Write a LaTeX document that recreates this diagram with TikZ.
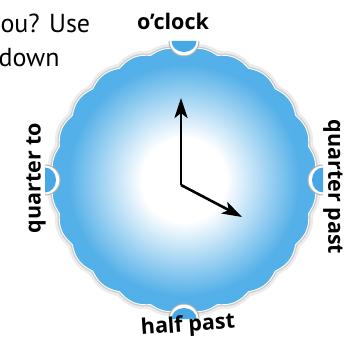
\documentclass[tikz,border=0pt]{standalone}
\usepackage{fontspec}
\setmainfont{Open Sans}
\newfontfamily\topfont{PT Sans}
\usetikzlibrary{arrows.meta}
\definecolor{clockblue}{RGB}{84,176,232}
\definecolor{notchblue}{RGB}{72,168,230}
\pgfdeclareradialshading{clockface}{\pgfpoint{0bp}{0bp}}{color(0bp)=(white); color(8bp)=(white); color(22bp)=(clockblue); color(50bp)=(clockblue)}
\tikzset{
  handarrow/.style={-{Stealth[length=20pt,width=13pt,inset=5pt]}, line width=2.6pt},
  rimlabel/.style={font=\bfseries\fontsize{21.5}{21.5}\selectfont},
  toptext/.style={anchor=base west, font=\topfont\fontsize{26}{26}\selectfont},
  clockrim/.style={line join=round,
    preaction={draw=gray!15, line width=9pt},
    preaction={draw=gray!40, line width=3.5pt},
    shading=clockface, draw=white, line width=0.9pt},
  notchring/.style={fill=white},
  notchdisk/.style={fill=notchblue}
}

\begin{document}
\begin{tikzpicture}[x=1pt, y=1pt]
  \useasboundingbox (0,0) rectangle (348,343);
  \clip (0,0) rectangle (348,343);
  \node[toptext] (line1) at (-3,310) {ou? Use};
  \node[toptext] (line2) at (-5,276) {down};
  % clock face
  \coordinate (c) at (184,163);
  \path[clockrim] plot[domain=0:360, samples=481, variable=\t]
    ({184+(129+3.5*abs(sin(12*\t)))*cos(\t)}, {163+(129+3.5*abs(sin(12*\t)))*sin(\t)}) -- cycle;
  \foreach \a in {0,90,180,270} {
    \begin{scope}[shift={(c)}, rotate=\a]
      \fill[notchring] (139,15) arc[start angle=90, end angle=270, radius=15] -- cycle;
      \draw[gray!60, line width=1pt] (139,15) arc[start angle=90, end angle=270, radius=15];
      \fill[notchdisk] (139,12.5) arc[start angle=90, end angle=270, x radius=11, y radius=12.5] -- cycle;
    \end{scope}
  }
  \node[rimlabel] (oclock) at (173,322) {o'clock};
  \node[rimlabel, rotate=90] (qto) at (36,165) {quarter to};
  \node[rimlabel, rotate=-90] (qpast) at (333,156) {quarter past};
  \node[rimlabel, rotate=4] (halfpast) at (188,17) {half past};
  % hands
  \coordinate (pivot) at (181,158);
  \coordinate (mintip) at (181,245);
  \coordinate (hourtip) at (242,126);
  \draw[handarrow] (pivot) -- (mintip);
  \draw[handarrow] (pivot) -- (hourtip);
\end{tikzpicture}
\end{document}
